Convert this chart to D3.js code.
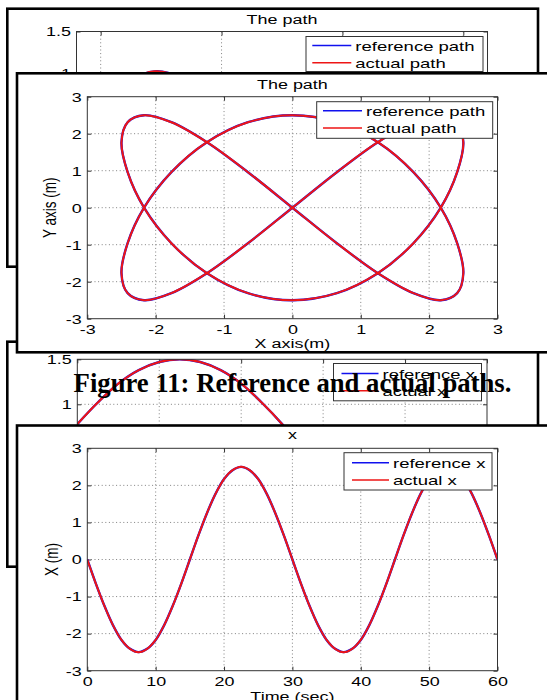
<!DOCTYPE html>
<html>
<head>
<meta charset="utf-8">
<script src="https://cdn.jsdelivr.net/npm/d3@7"></script>
<style>
  body { margin: 0; background: #fff; }
  svg { display: block; }
</style>
</head>
<body>
<svg id="chart" width="547" height="700"></svg>
<script>
// ---- data ----
// time axis of the x plot (sec)
var timeSec = [0, 1.25, 2.5, 3.75, 5, 6.25, 7.5, 8.75, 10, 11.25, 12.5, 13.75, 15, 16.25, 17.5, 18.75,
  20, 21.25, 22.5, 23.75, 25, 26.25, 27.5, 28.75, 30, 31.25, 32.5, 33.75, 35, 36.25, 37.5, 38.75,
  40, 41.25, 42.5, 43.75, 45, 46.25, 47.5, 48.75, 50, 51.25, 52.5, 53.75, 55, 56.25, 57.5, 58.75, 60]
// reference x (m)
var xRef = [0, -0.65, -1.25, -1.77, -2.17, -2.41, -2.5, -2.41, -2.17, -1.77, -1.25, -0.65, 0, 0.65, 1.25, 1.77,
  2.17, 2.41, 2.5, 2.41, 2.17, 1.77, 1.25, 0.65, 0, -0.65, -1.25, -1.77, -2.17, -2.41, -2.5, -2.41,
  -2.17, -1.77, -1.25, -0.65, 0, 0.65, 1.25, 1.77, 2.17, 2.41, 2.5, 2.41, 2.17, 1.77, 1.25, 0.65, 0]
// reference y (m)
var yRef = [2.5, 2.31, 1.77, 0.96, 0, -0.96, -1.77, -2.31, -2.5, -2.31, -1.77, -0.96, 0, 0.96, 1.77, 2.31,
  2.5, 2.31, 1.77, 0.96, 0, -0.96, -1.77, -2.31, -2.5, -2.31, -1.77, -0.96, 0, 0.96, 1.77, 2.31,
  2.5, 2.31, 1.77, 0.96, 0, -0.96, -1.77, -2.31, -2.5, -2.31, -1.77, -0.96, 0, 0.96, 1.77, 2.31, 2.5]
// actual path sits on top of the reference everywhere
var xAct = xRef.slice()
var yAct = yRef.slice()

// figure hidden behind (top): only two bumps of the path show
var backPathX = [0, 0.285, 0.527, 0.688, 0.745, 0.688, 0.527, 0.285, 0, -0.285, -0.527, -0.688, -0.745, -0.688, -0.527, -0.285]
var backPathY = [0, 0.72, 1.02, 0.72, 0, -0.72, -1.02, -0.72, 0, 0.72, 1.02, 0.72, 0, -0.72, -1.02, -0.72]

// figure hidden behind (middle): start of the x curve
var backTime = [0, 2.5, 5, 7.5, 10, 12.5, 15, 17.5, 20, 22.5, 25, 27.5, 30]
var backX = [0.78, 1.02, 1.23, 1.38, 1.47, 1.5, 1.47, 1.38, 1.23, 1.02, 0.78, 0.5, 0.2]

var pathTicks = [-3, -2, -1, 0, 1, 2, 3]
var timeTicks = [0, 10, 20, 30, 40, 50, 60]
var backTimeTicks = [0, 10, 20, 30, 40, 50]
var backPathXTicks = [-0.75, -0.25, 0.25, 0.75]
var backYTicks = [-1, -0.5, 0, 0.5, 1, 1.5]
var backXTicks = [-0.5, 0, 0.5, 1, 1.5]

var pathNames = ["reference path", "actual path"]
var xNames = ["reference x", "actual x"]
var caption = "Figure 11: Reference and actual paths."

// ---- drawing ----
var svg = d3.select("#chart")
var SX = 1.33   // the screenshot is stretched sideways
var SANS = "'Liberation Sans', Arial, Helvetica, sans-serif"
var RED = "#ee1515", BLUE = "#1010ee"
var clipN = 0

function label(g, x, y, str, o) {
    o = o || {}
    var t = g.append("text")
        .attr("transform", "translate(" + x + "," + y + ") scale(" + (o.sx || SX) + ",1)" + (o.rotate ? " rotate(" + o.rotate + ")" : ""))
        .attr("text-anchor", o.anchor || "middle")
        .attr("font-family", SANS)
        .attr("font-size", o.size || 13.5)
        .attr("fill", "#000")
        .text(str)
    if (o.dy) t.attr("dy", o.dy)
    return t
}

function axisStyle(sel) {
    sel.select(".domain").remove()
    sel.attr("font-family", SANS).attr("font-size", 13.5)
    sel.selectAll(".tick line").attr("stroke", "#333")
    sel.selectAll(".tick text").attr("fill", "#000").attr("transform", "scale(" + SX + ",1)")
}

function drawFigure(f) {
    var g = svg.append("g")
    g.append("rect")
        .attr("x", f.frame[0]).attr("y", f.frame[1])
        .attr("width", f.frame[2]).attr("height", f.frame[3])
        .attr("fill", "#fff").attr("stroke", "#000").attr("stroke-width", 2.6)

    var x = d3.scaleLinear().domain(f.xDomain).range([f.box[0], f.box[1]])
    var y = d3.scaleLinear().domain(f.yDomain).range([f.box[3], f.box[2]])
    var fmt = function(d) { return String(d) }

    var grid = g.append("g")
        .attr("stroke", "#808080").attr("stroke-width", 1).attr("stroke-dasharray", "1,2.6")
    grid.selectAll(".gx")
        .data(f.xTicks.filter(function(d) { return d > f.xDomain[0] && d < f.xDomain[1] }))
        .join("line")
        .attr("x1", function(d) { return x(d) }).attr("x2", function(d) { return x(d) })
        .attr("y1", f.box[2]).attr("y2", f.box[3])
    grid.selectAll(".gy")
        .data(f.yTicks.filter(function(d) { return d > f.yDomain[0] && d < f.yDomain[1] }))
        .join("line")
        .attr("y1", function(d) { return y(d) }).attr("y2", function(d) { return y(d) })
        .attr("x1", f.box[0]).attr("x2", f.box[1])

    g.append("g").attr("transform", "translate(0," + f.box[3] + ")")
        .call(d3.axisBottom(x).tickValues(f.xTicks).tickSize(-4).tickPadding(6).tickFormat(fmt))
        .call(axisStyle)
    g.append("g").attr("transform", "translate(" + f.box[0] + ",0)")
        .call(d3.axisLeft(y).tickValues(f.yTicks).tickSize(-4).tickPadding(4.2).tickFormat(fmt))
        .call(axisStyle)
    g.append("g").attr("transform", "translate(0," + f.box[2] + ")")
        .call(d3.axisTop(x).tickValues(f.xTicks).tickSize(-4).tickFormat(""))
        .call(axisStyle)
    g.append("g").attr("transform", "translate(" + f.box[1] + ",0)")
        .call(d3.axisRight(y).tickValues(f.yTicks).tickSize(-4).tickFormat(""))
        .call(axisStyle)

    var id = "clip" + (clipN++)
    g.append("clipPath").attr("id", id).append("rect")
        .attr("x", f.box[0]).attr("y", f.box[2])
        .attr("width", f.box[1] - f.box[0]).attr("height", f.box[3] - f.box[2])
    var plot = g.append("g").attr("clip-path", "url(#" + id + ")")
    f.series.forEach(function(s) {
        var pts = s.xs.map(function(v, i) { return [v, s.ys[i]] })
        if (s.closed && s.dropLast) pts = pts.slice(0, -1)
        var line = d3.line()
            .x(function(d) { return x(d[0]) })
            .y(function(d) { return y(d[1]) })
            .curve(s.closed ? d3.curveCatmullRomClosed : d3.curveCatmullRom)
        plot.append("path").datum(pts)
            .attr("d", line)
            .attr("fill", "none")
            .attr("stroke", s.color)
            .attr("stroke-width", s.width)
            .attr("stroke-linejoin", "round")
    })

    g.append("rect")
        .attr("x", f.box[0]).attr("y", f.box[2])
        .attr("width", f.box[1] - f.box[0]).attr("height", f.box[3] - f.box[2])
        .attr("fill", "none").attr("stroke", "#333").attr("stroke-width", 1)

    label(g, (f.box[0] + f.box[1]) / 2, f.titleY, f.title)
    if (f.xLabel) label(g, (f.box[0] + f.box[1]) / 2, f.xLabelY, f.xLabel)
    if (f.yLabel) label(g, f.yLabelX, (f.box[2] + f.box[3]) / 2, f.yLabel, { rotate: -90, dy: "0.36em" })

    var L = f.legend
    var lg = g.append("g").attr("transform", "translate(" + L.x + "," + L.y + ")")
    lg.append("rect").attr("width", L.w).attr("height", L.h)
        .attr("fill", "#fff").attr("stroke", "#333").attr("stroke-width", 1)
    L.names.forEach(function(name, i) {
        var cy = L.row0 + i * L.rowGap
        lg.append("line")
            .attr("x1", L.line[0]).attr("x2", L.line[1]).attr("y1", cy).attr("y2", cy)
            .attr("stroke", L.colors[i]).attr("stroke-width", 1.6)
        label(lg, L.textX, cy + 5, name, { anchor: "start", sx: 1.37 })
    })
}

// back figure 1 (top, mostly covered)
drawFigure({
    frame: [7.3, 8.7, 530.7, 258],
    box: [76.5, 487.5, 31.5, 239],
    xDomain: [-0.85, 0.85], yDomain: [-1, 1.5],
    xTicks: backPathXTicks, yTicks: backYTicks,
    title: "The path", titleY: 23.5,
    series: [
        { xs: backPathX, ys: backPathY, color: BLUE, width: 2.4, closed: true },
        { xs: backPathX, ys: backPathY, color: RED, width: 2.0, closed: true }
    ],
    legend: { x: 306, y: 36.5, w: 177, h: 35, row0: 9, rowGap: 17.3, line: [6.3, 45.3], textX: 49.3,
              names: pathNames, colors: [BLUE, RED] }
})

// back figure 2 (middle, mostly covered)
drawFigure({
    frame: [7.3, 341.7, 530.7, 225],
    box: [77.3, 487, 359.3, 539.3],
    xDomain: [0, 50], yDomain: [-0.5, 1.5],
    xTicks: backTimeTicks, yTicks: backXTicks,
    title: "x", titleY: 349,
    series: [
        { xs: backTime, ys: backX, color: BLUE, width: 2.4 },
        { xs: backTime, ys: backX, color: RED, width: 2.0 }
    ],
    legend: { x: 333.5, y: 363.5, w: 148, h: 37.3, row0: 10, rowGap: 17.3, line: [8, 45], textX: 49,
              names: xNames, colors: [BLUE, RED] }
})

// front figure 1: the path
drawFigure({
    frame: [17, 73.3, 545, 279],
    box: [87.3, 497.5, 96.7, 318.7],
    xDomain: [-3, 3], yDomain: [-3, 3],
    xTicks: pathTicks, yTicks: pathTicks,
    title: "The path", titleY: 88.5,
    xLabel: "X axis(m)", xLabelY: 348,
    yLabel: "Y axis (m)", yLabelX: 50,
    series: [
        { xs: xRef, ys: yRef, color: BLUE, width: 2.4, closed: true, dropLast: true },
        { xs: xAct, ys: yAct, color: RED, width: 2.0, closed: true, dropLast: true }
    ],
    legend: { x: 316.7, y: 101.7, w: 176, h: 36.6, row0: 9, rowGap: 17.3, line: [6.3, 45.3], textX: 49.3,
              names: pathNames, colors: [BLUE, RED] }
})

// front figure 2: x against time
drawFigure({
    frame: [17, 425.5, 545, 300],
    box: [87.3, 497.5, 448.3, 670.7],
    xDomain: [0, 60], yDomain: [-3, 3],
    xTicks: timeTicks, yTicks: pathTicks,
    title: "x", titleY: 438.5,
    xLabel: "Time (sec)", xLabelY: 701,
    yLabel: "X (m)", yLabelX: 51.7,
    series: [
        { xs: timeSec, ys: xRef, color: BLUE, width: 2.4 },
        { xs: timeSec, ys: xAct, color: RED, width: 2.0 }
    ],
    legend: { x: 344, y: 452.7, w: 148, h: 37.3, row0: 10, rowGap: 17.3, line: [8, 45], textX: 49,
              names: xNames, colors: [BLUE, RED] }
})

// caption of the paper, printed over the figures
svg.append("text")
    .attr("x", 292.5).attr("y", 392)
    .attr("text-anchor", "middle")
    .attr("font-family", "'Liberation Serif', 'Times New Roman', serif")
    .attr("font-weight", "bold")
    .attr("font-size", 26.7)
    .attr("fill", "#000")
    .text(caption)
</script>
</body>
</html>
